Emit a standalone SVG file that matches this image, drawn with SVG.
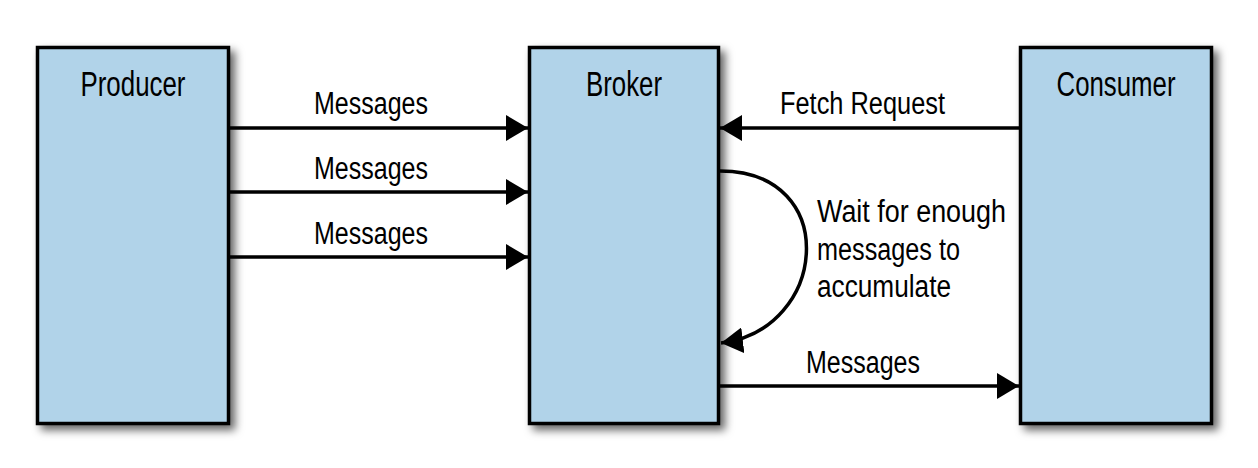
<svg xmlns="http://www.w3.org/2000/svg" width="1258" height="468" viewBox="0 0 1258 468">
<defs>
<filter id="sh" x="-10%" y="-10%" width="130%" height="130%">
<feDropShadow dx="5" dy="5" stdDeviation="4" flood-color="#000" flood-opacity="0.6"/>
</filter>
<marker id="ah" markerUnits="userSpaceOnUse" markerWidth="22" markerHeight="26" refX="22" refY="13" orient="auto" viewBox="0 0 22 26">
<path d="M0,0 L22,13 L0,26 z" fill="#000"/>
</marker>
</defs>
<style>
.box{fill:#b1d3e9;stroke:#000;stroke-width:3.5}
.t{font-family:"Liberation Sans",Arial,sans-serif;fill:#000}
.title{font-size:35px;text-anchor:middle}
.lbl{font-size:31px}
.c{fill:none;stroke:#000;stroke-width:3.5;marker-end:url(#ah)}
</style>
<rect width="1258" height="468" fill="#fff"/>
<g id="producer">
<rect class="box" x="37.5" y="47.5" width="191" height="376" filter="url(#sh)"/>
<text class="t title" x="133" y="96" textLength="105" lengthAdjust="spacingAndGlyphs">Producer</text>
</g>
<g id="broker">
<rect class="box" x="529.5" y="47.5" width="189" height="376" filter="url(#sh)"/>
<text class="t title" x="624" y="96" textLength="76" lengthAdjust="spacingAndGlyphs">Broker</text>
</g>
<g id="consumer">
<rect class="box" x="1020.5" y="47.5" width="191" height="376" filter="url(#sh)"/>
<text class="t title" x="1116" y="96" textLength="119" lengthAdjust="spacingAndGlyphs">Consumer</text>
</g>
<g id="connectors">
<line class="c" x1="230" y1="128" x2="528" y2="128"/>
<line class="c" x1="230" y1="192" x2="528" y2="192"/>
<line class="c" x1="230" y1="257" x2="528" y2="257"/>
<line class="c" x1="1019" y1="128" x2="720" y2="128"/>
<line class="c" x1="720" y1="386" x2="1019" y2="386"/>
<path class="c" d="M720,171 C842,171 828,330 721,343"/>
<text class="t lbl" x="314" y="114" textLength="114" lengthAdjust="spacingAndGlyphs">Messages</text>
<text class="t lbl" x="314" y="179" textLength="114" lengthAdjust="spacingAndGlyphs">Messages</text>
<text class="t lbl" x="314" y="244" textLength="114" lengthAdjust="spacingAndGlyphs">Messages</text>
<text class="t lbl" x="780" y="114" textLength="165" lengthAdjust="spacingAndGlyphs">Fetch Request</text>
<text class="t lbl" x="817" y="222" textLength="189" lengthAdjust="spacingAndGlyphs">Wait for enough</text>
<text class="t lbl" x="817" y="260" textLength="143" lengthAdjust="spacingAndGlyphs">messages to</text>
<text class="t lbl" x="817" y="297" textLength="134" lengthAdjust="spacingAndGlyphs">accumulate</text>
<text class="t lbl" x="806" y="373" textLength="114" lengthAdjust="spacingAndGlyphs">Messages</text>
</g>
</svg>
